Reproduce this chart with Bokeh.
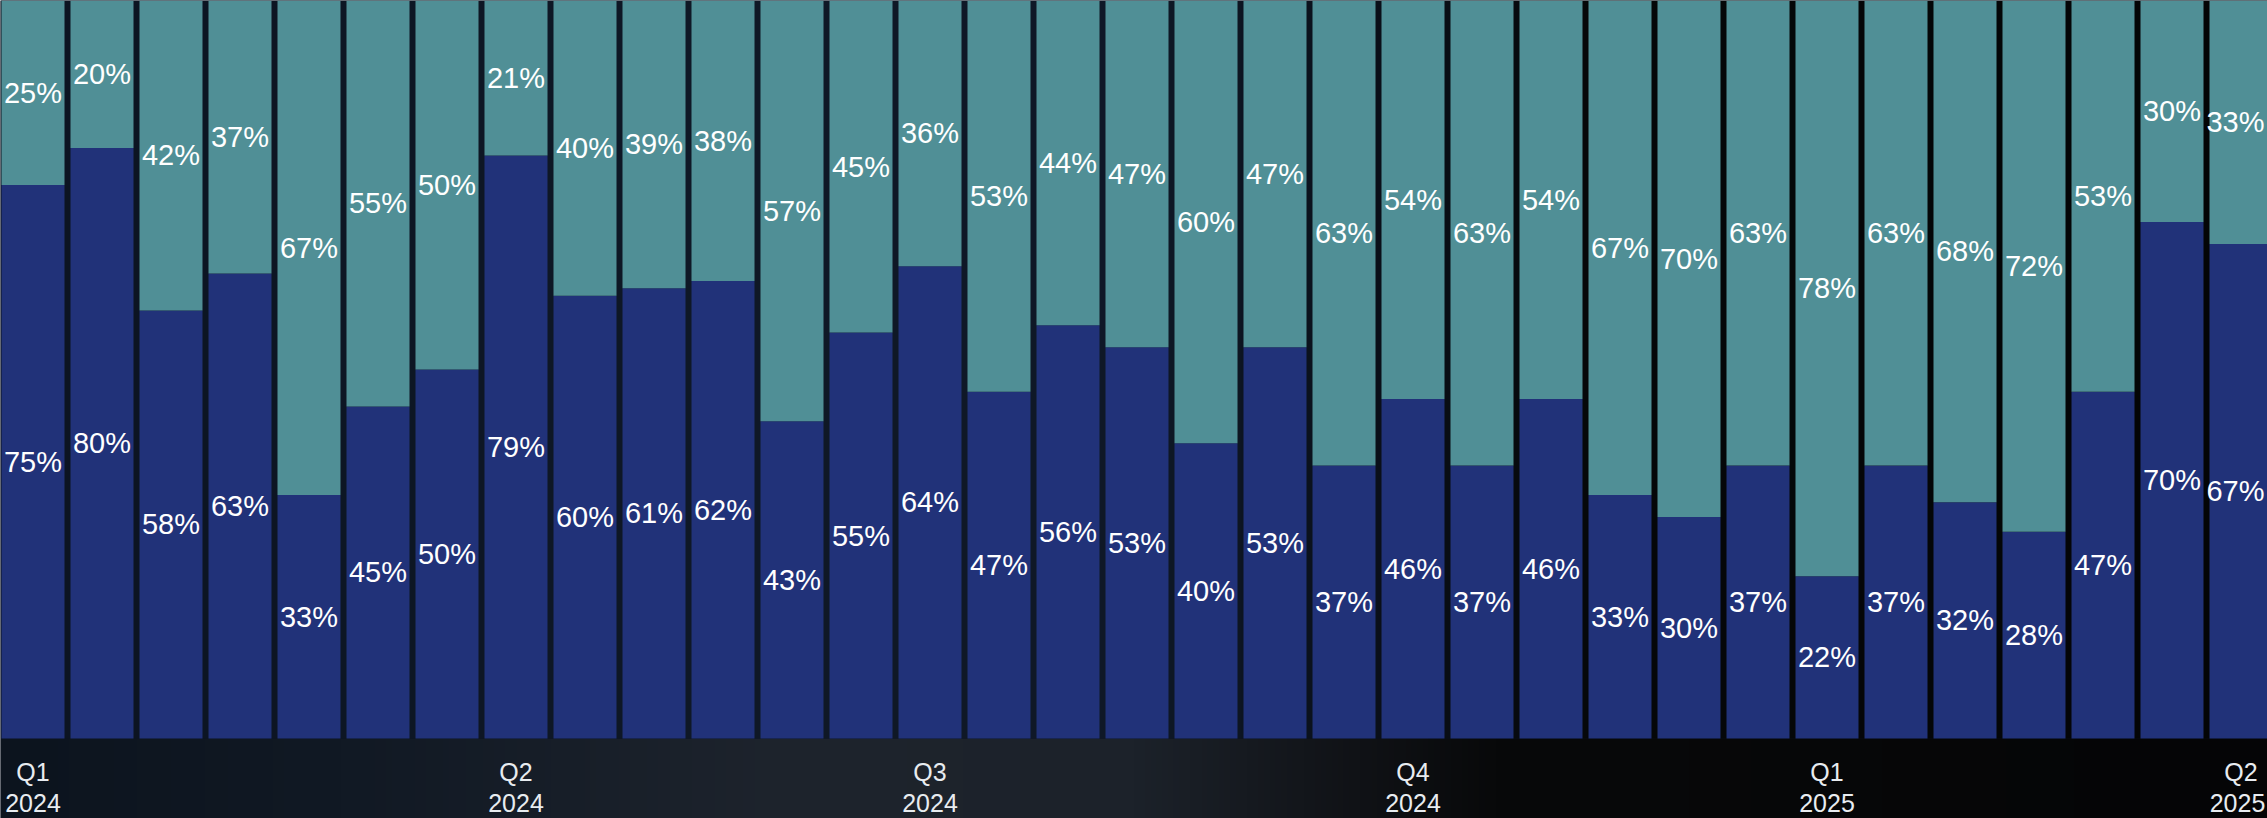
import numpy as np
from bokeh.plotting import figure
from bokeh.models import Range1d, ColumnDataSource
from bokeh.core.properties import value
from bokeh.embed import file_html
from bokeh.resources import INLINE

# ---- data ----
bottom_pct = [75, 80, 58, 63, 33, 45, 50, 79, 60, 61, 62, 43, 55, 64, 47, 56, 53,
              40, 53, 37, 46, 37, 46, 33, 30, 37, 22, 37, 32, 28, 47, 70, 67]
top_pct = [25, 20, 42, 37, 67, 55, 50, 21, 40, 39, 38, 57, 45, 36, 53, 44, 47,
           60, 47, 63, 54, 63, 54, 67, 70, 63, 78, 63, 68, 72, 53, 30, 33]
tick_index = [0, 7, 13, 20, 26, 32]
tick_quarter = ["Q1", "Q2", "Q3", "Q4", "Q1", "Q2"]
tick_year = ["2024", "2024", "2024", "2024", "2025", "2025"]

NAVY = "#213279"
TEAL = "#508f96"

n = len(bottom_pct)
idx = list(range(n))
bottom = np.array(bottom_pct, dtype=float)
top = np.array(top_pct, dtype=float)

W, H = 2267, 818
x0, x1 = -0.471, 32.384
y0, y1 = -10.84, 100.0
px_per_bar = W / (x1 - x0)

p = figure(width=W, height=H, output_backend="svg", toolbar_location=None,
           x_range=Range1d(x0, x1), y_range=Range1d(y0, y1),
           min_border=0, min_border_left=0, min_border_right=0,
           min_border_top=0, min_border_bottom=0)
p.axis.visible = False
p.grid.visible = False
p.outline_line_color = None
p.background_fill_color = "#0c1320"
p.border_fill_color = "#0c1320"


def gradient(stops_x, r_s, g_s, b_s, cols=400):
    xs = np.linspace(0, 1, cols)
    img = np.zeros((1, cols), dtype=np.uint32)
    view = img.view(dtype=np.uint8).reshape((1, cols, 4))
    view[0, :, 0] = np.interp(xs, stops_x, r_s).astype(np.uint8)
    view[0, :, 1] = np.interp(xs, stops_x, g_s).astype(np.uint8)
    view[0, :, 2] = np.interp(xs, stops_x, b_s).astype(np.uint8)
    view[0, :, 3] = 255
    return img


# decorative dark backdrop: bottom band (photo-like) and area behind bars
band = gradient([0.0, 0.15, 0.35, 0.5, 0.6, 0.66, 1.0],
                [12, 17, 30, 28, 16, 8, 5],
                [20, 25, 36, 34, 18, 9, 5],
                [30, 36, 45, 42, 22, 10, 6])
upper = gradient([0.0, 0.3, 0.5, 0.62, 0.7, 1.0],
                 [12, 15, 15, 10, 6, 4],
                 [20, 24, 25, 15, 8, 5],
                 [34, 38, 40, 24, 10, 6])
p.image_rgba(image=[band], x=x0, y=y0, dw=x1 - x0, dh=0 - y0)
p.image_rgba(image=[upper], x=x0, y=0, dw=x1 - x0, dh=y1)

# keep labels near the right edge inside the canvas
label_w_px = 62
centre_px = (np.array(idx) - x0) * px_per_bar
over = centre_px + label_w_px / 2 - (W - 1)
xoff = np.where(over > 0, -over, 0.0)

src = ColumnDataSource(dict(
    x=idx,
    bottom=bottom,
    top=top,
    stack_top=bottom + top,
    bottom_mid=bottom / 2,
    top_mid=bottom + top / 2,
    bottom_lbl=[f"{v}%" for v in bottom_pct],
    top_lbl=[f"{v}%" for v in top_pct],
    xoff=xoff,
))

bw = 63 / 69
p.vbar(x="x", bottom=0, top="bottom", width=bw, fill_color=NAVY,
       line_color=None, source=src)
p.vbar(x="x", bottom="bottom", top="stack_top", width=bw, fill_color=TEAL,
       line_color=None, source=src)

font = value("Liberation Sans")
p.text(x="x", y="bottom_mid", text="bottom_lbl", source=src, x_offset="xoff",
       text_color="white", text_font=font, text_font_size="29px",
       text_align="center", text_baseline="middle")
p.text(x="x", y="top_mid", text="top_lbl", source=src, x_offset="xoff",
       text_color="white", text_font=font, text_font_size="29px",
       text_align="center", text_baseline="middle")

tick_w_px = 58
tcentre = (np.array(tick_index) - x0) * px_per_bar
tover = tcentre + tick_w_px / 2 - (W - 1)
txoff = np.where(tover > 0, -tover, 0.0)

tsrc = ColumnDataSource(dict(
    x=tick_index,
    yq=[-4.6] * len(tick_index),
    yy=[-8.75] * len(tick_index),
    q=tick_quarter,
    yr=tick_year,
    xoff=txoff,
))
p.text(x="x", y="yq", text="q", source=tsrc, text_color="#e8ecf0",
       text_font=font, text_font_size="25px", text_align="center",
       text_baseline="middle")
p.text(x="x", y="yy", text="yr", source=tsrc, x_offset="xoff",
       text_color="#e8ecf0", text_font=font, text_font_size="25px",
       text_align="center", text_baseline="middle")

open("out.html", "w").write(file_html(p, INLINE))
